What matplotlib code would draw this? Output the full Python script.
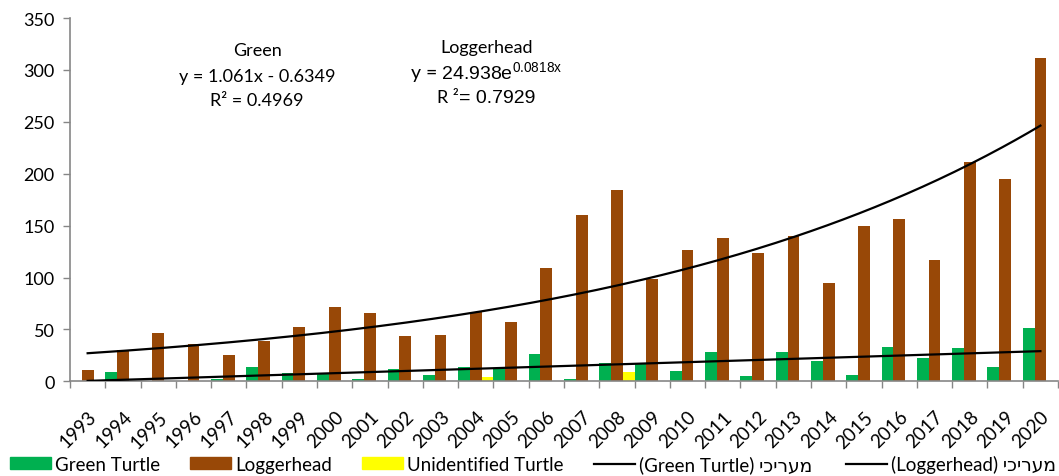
import numpy as np
import matplotlib.pyplot as plt
from matplotlib.patches import Patch
from matplotlib.lines import Line2D
from matplotlib.offsetbox import AnnotationBbox, HPacker, TextArea

YEARS = [1993, 1994, 1995, 1996, 1997, 1998, 1999, 2000, 2001, 2002,
         2003, 2004, 2005, 2006, 2007, 2008, 2009, 2010, 2011, 2012,
         2013, 2014, 2015, 2016, 2017, 2018, 2019, 2020]
GREEN = [0, 9, 0, 0, 2, 14, 8, 8, 2, 12,
         6, 14, 12, 26, 2, 18, 18, 10, 28, 5,
         28, 20, 6, 33, 22, 32, 14, 51]
LOGGERHEAD = [11, 30, 47, 36, 25, 39, 52, 72, 66, 44,
              45, 67, 57, 109, 160, 184, 99, 127, 138, 124,
              140, 95, 150, 156, 117, 211, 195, 312]
UNIDENTIFIED = [0, 0, 0, 0, 0, 0, 0, 0, 0, 0,
                0, 4, 0, 0, 0, 9, 0, 0, 0, 0,
                0, 0, 0, 0, 0, 0, 0, 0]

# Excel trendline coefficients (x = 1..28)
GREEN_SLOPE, GREEN_INTERCEPT = 1.061, -0.6349
LOGG_A, LOGG_B = 24.938, 0.0818

C_GREEN = "#00B050"
C_BROWN = "#984807"
C_YELLOW = "#FFFF00"
AXIS_GRAY = "#868686"

HEB = "מעריכי"[::-1]  # visual order (no bidi in matplotlib)

plt.rcParams["font.family"] = ["Lato", "DejaVu Sans"]
plt.rcParams["mathtext.fontset"] = "custom"
plt.rcParams["mathtext.rm"] = "Liberation Sans"
plt.rcParams["mathtext.it"] = "Liberation Sans:italic"

fig = plt.figure(figsize=(10.59, 4.77), dpi=100)
ax = fig.add_axes([0.0661, 0.1985, 0.933, 0.7615])

x = np.arange(len(YEARS))
w = 1 / 3
ax.bar(x - w, GREEN, width=w, color=C_GREEN, zorder=2)
ax.bar(x, LOGGERHEAD, width=w, color=C_BROWN, zorder=2)
ax.bar(x + w, UNIDENTIFIED, width=w, color=C_YELLOW, zorder=2)

t = np.linspace(1, len(YEARS), 300)
ax.plot(t - 1, GREEN_SLOPE * t + GREEN_INTERCEPT, color="black", lw=1.6, zorder=3)
ax.plot(t - 1, LOGG_A * np.exp(LOGG_B * t), color="black", lw=1.6, zorder=3)

ax.set_xlim(-0.5, len(YEARS) - 0.5)
ax.set_ylim(0, 350)
ax.set_yticks(range(0, 351, 50))
ax.set_xticks(x)
ax.set_xticklabels(YEARS, rotation=45, ha="right", va="top",
                   rotation_mode="anchor", fontsize=13.5)
ax.set_xticks(np.arange(-0.5, len(YEARS)), minor=True)
ax.tick_params(axis="x", which="major", length=0, pad=19)
ax.tick_params(axis="x", which="minor", length=5, color=AXIS_GRAY, width=1)
ax.tick_params(axis="y", length=5, color=AXIS_GRAY, width=1, labelsize=13, pad=6)

for s in ["top", "right"]:
    ax.spines[s].set_visible(False)
for s in ["left", "bottom"]:
    ax.spines[s].set_color(AXIS_GRAY)
    ax.spines[s].set_linewidth(1.2)

# trendline labels
ax.text(4.8, 319, "Green", ha="center", va="center", fontsize=13)
ax.text(4.8, 294, f"y = {GREEN_SLOPE}x - {abs(GREEN_INTERCEPT)}",
        ha="center", va="center", fontsize=13)
ax.text(4.8, 271, "R² = 0.4969", ha="center", va="center", fontsize=13)

ax.text(11.3, 322, "Loggerhead", ha="center", va="center", fontsize=13)
ax.text(11.3, 298, r"y = $\mathrm{%s e}^{\mathrm{%s x}}$" % (LOGG_A, LOGG_B),
        ha="center", va="center", fontsize=14)
r2 = HPacker(children=[
    TextArea("R ²", textprops=dict(fontsize=13)),
    TextArea("= 0.7929", textprops=dict(fontsize=14, family="Liberation Sans")),
], align="baseline", pad=0, sep=0)
ax.add_artist(AnnotationBbox(r2, (11.3, 273), frameon=False, box_alignment=(0.5, 0.5)))

# legend: one entry per box so the spacing follows the original
entries = [
    (Patch(color=C_GREEN), "Green Turtle", 10),
    (Patch(color=C_BROWN), "Loggerhead", 190),
    (Patch(color=C_YELLOW), "Unidentified Turtle", 362),
    (Line2D([], [], color="black", lw=1.6), "(Green Turtle) " + HEB, 594),
    (Line2D([], [], color="black", lw=1.6), "(Loggerhead) " + HEB, 846),
]
for handle, label, px in entries:
    fig.legend([handle], [label], loc="center left",
               bbox_to_anchor=(px / 1059, 0.025), frameon=False,
               fontsize=13.5, handlelength=2.2, handleheight=0.65,
               handletextpad=0.2, borderaxespad=0, borderpad=0)

fig.savefig("out.png", dpi=100)
